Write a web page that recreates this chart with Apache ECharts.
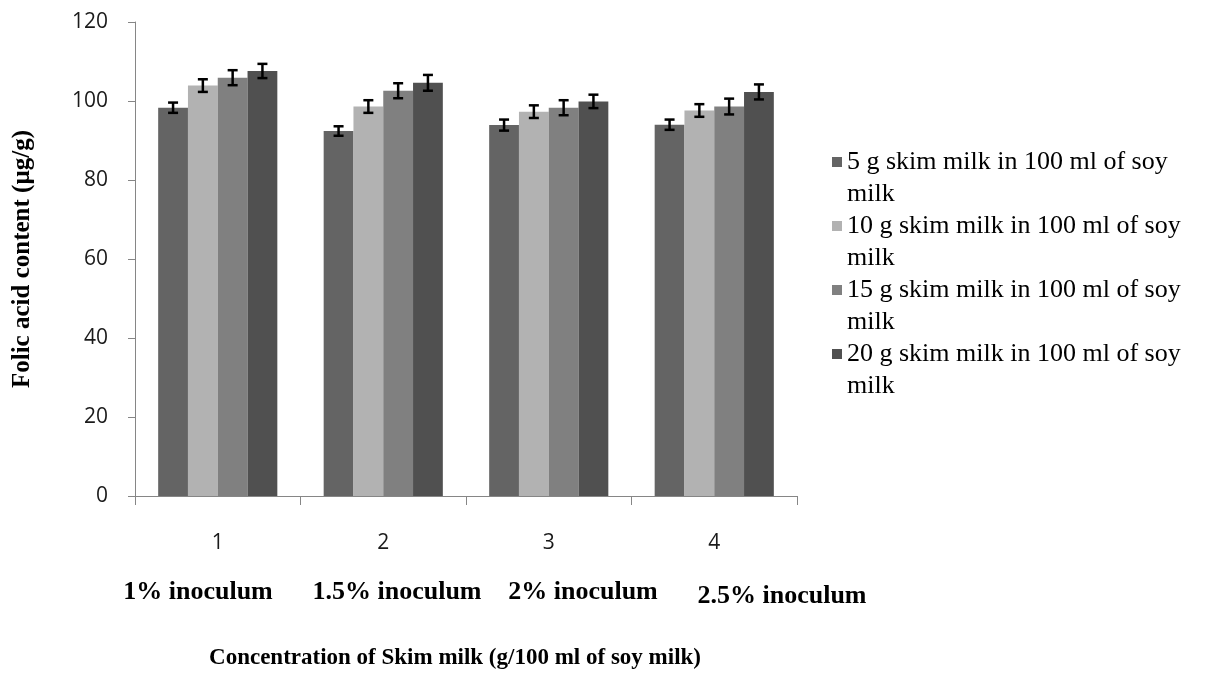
<!DOCTYPE html>
<html>
<head>
<meta charset="utf-8">
<script src="https://cdn.jsdelivr.net/npm/echarts@6/dist/echarts.min.js"></script>
<style>html,body{margin:0;padding:0;background:#fff;}#c{width:1210px;height:675px;}</style>
</head>
<body>
<div id="c"></div>
<script>
const categories = ['1', '2', '3', '4'];
const groupLabels = ['1% inoculum', '1.5% inoculum', '2% inoculum', '2.5% inoculum'];
const seriesNames = [
  '5 g skim milk in 100 ml of soy milk',
  '10 g skim milk in 100 ml of soy milk',
  '15 g skim milk in 100 ml of soy milk',
  '20 g skim milk in 100 ml of soy milk'
];
const values5 = [98.3, 92.4, 93.9, 94.0];
const values10 = [103.9, 98.6, 97.3, 97.6];
const values15 = [105.9, 102.6, 98.3, 98.6];
const values20 = [107.6, 104.6, 99.9, 102.3];
const err5 = [1.3, 1.2, 1.4, 1.3];
const err10 = [1.6, 1.6, 1.6, 1.6];
const err15 = [1.9, 1.9, 1.9, 2.0];
const err20 = [1.8, 2.0, 1.7, 1.9];
const yTicks = { min: 0, max: 120, interval: 20 };

const allValues = [values5, values10, values15, values20];
const allErr = [err5, err10, err15, err20];
const colors = ['#646464', '#b2b2b2', '#808080', '#505050'];
const catGap = 0.28;

const chart = echarts.init(document.getElementById('c'));
const serif = '"Liberation Serif", "Times New Roman", serif';
const sans = '"Open Sans", "Liberation Sans", sans-serif';

const series = [];
allValues.forEach((vals, i) => {
  series.push({
    name: seriesNames[i],
    type: 'bar',
    data: vals,
    barGap: '0%',
    barCategoryGap: (catGap * 100) + '%',
    itemStyle: { color: colors[i] }
  });
});
allValues.forEach((vals, i) => {
  series.push({
    type: 'custom',
    name: 'err' + i,
    data: vals.map((v, j) => [j, v - allErr[i][j], v + allErr[i][j]]),
    z: 10,
    silent: true,
    renderItem: function (params, api) {
      const cat = api.value(0);
      const lo = api.coord([cat, api.value(1)]);
      const hi = api.coord([cat, api.value(2)]);
      const cw = api.size([1, 0])[0];
      const bw = cw * (1 - catGap) / 4;
      const x = lo[0] - cw * (1 - catGap) / 2 + bw * (i + 0.5);
      const hw = 5;
      const st = { stroke: '#000', lineWidth: 2.5 };
      return {
        type: 'group',
        children: [
          { type: 'line', shape: { x1: x, y1: lo[1], x2: x, y2: hi[1] }, style: st },
          { type: 'line', shape: { x1: x - hw, y1: lo[1], x2: x + hw, y2: lo[1] }, style: st },
          { type: 'line', shape: { x1: x - hw, y1: hi[1], x2: x + hw, y2: hi[1] }, style: st }
        ]
      };
    }
  });
});

const labelX = [198, 397, 583, 782];
const labelY = [592, 592, 592, 596];

chart.setOption({
  backgroundColor: '#fff',
  animation: false,
  grid: { left: 135, right: 413, top: 22, bottom: 175 },
  legend: {
    data: seriesNames,
    orient: 'vertical',
    left: 827,
    top: 141,
    itemGap: 0,
    itemWidth: 10,
    itemHeight: 64,
    icon: 'path://M0,0h0.05v0.05h-0.05z M0,11h10v10h-10z M0,63.95h0.05v0.05h-0.05z',
    formatter: function (n) {
      const k = n.lastIndexOf(' milk');
      return n.slice(0, k) + '\n' + n.slice(k + 1);
    },
    textStyle: { fontFamily: serif, fontSize: 26, color: '#000', lineHeight: 32 }
  },
  xAxis: {
    type: 'category',
    data: categories,
    name: 'Concentration of Skim milk (g/100 ml of soy milk)',
    nameLocation: 'middle',
    nameGap: 151,
    nameTextStyle: { fontFamily: serif, fontSize: 23, fontWeight: 'bold', color: '#000', padding: [0, 22, 0, 0] },
    axisLine: { lineStyle: { color: '#868686', width: 1 } },
    axisTick: { show: true, length: 9, lineStyle: { color: '#868686' } },
    axisLabel: { margin: 37, fontFamily: sans, fontSize: 21, color: '#1a1a1a' }
  },
  yAxis: {
    type: 'value',
    min: yTicks.min,
    max: yTicks.max,
    interval: yTicks.interval,
    name: 'Folic acid content (µg/g)',
    nameLocation: 'middle',
    nameGap: 100,
    nameTextStyle: { fontFamily: serif, fontSize: 25, fontWeight: 'bold', color: '#000' },
    splitLine: { show: false },
    axisLine: { show: true, lineStyle: { color: '#868686', width: 1 } },
    axisTick: { show: true, length: 7, lineStyle: { color: '#868686' } },
    axisLabel: { margin: 27, fontFamily: sans, fontSize: 21, color: '#1a1a1a' }
  },
  graphic: groupLabels.map((t, i) => ({
    type: 'text',
    x: labelX[i],
    y: labelY[i],
    style: {
      text: t,
      align: 'center',
      verticalAlign: 'middle',
      font: 'bold 26px ' + serif,
      fill: '#000'
    }
  })),
  series: series
});
</script>
</body>
</html>
